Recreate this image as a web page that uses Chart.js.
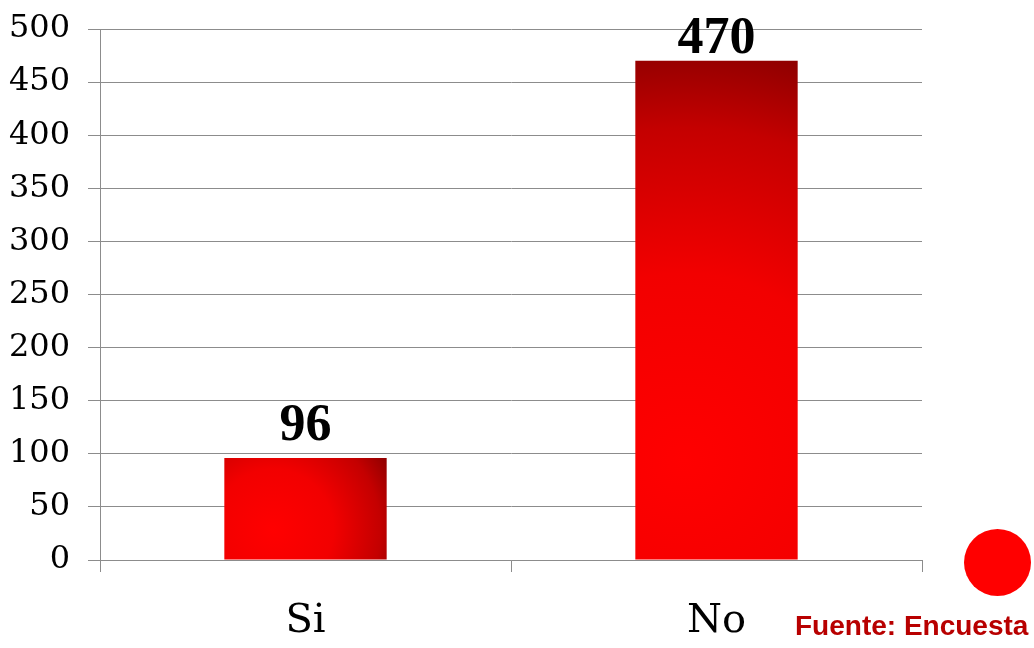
<!DOCTYPE html>
<html>
<head>
<meta charset="utf-8">
<script src="https://cdn.jsdelivr.net/npm/chart.js@4.4.1/dist/chart.umd.min.js"></script>
<style>
  html, body { margin: 0; padding: 0; background: #fff; }
  #wrap { position: relative; width: 1034px; height: 648px; }
  #marca { position: absolute; left: 964px; top: 529px; width: 67px; height: 67px; border-radius: 50%; background: #ff0000; }
  #fuente { position: absolute; left: 795px; top: 610px; font: bold 28px "Liberation Sans", Arial, sans-serif; color: #b80000; white-space: nowrap; }
</style>
</head>
<body>
<div id="wrap">
  <canvas id="grafica" width="1034" height="648"></canvas>
  <div id="marca"></div>
  <div id="fuente">Fuente: Encuesta</div>
</div>
<script>
// datos de la encuesta
const categorias = ['Si', 'No'];
const respuestas = [96, 470];
const ejeMin = 0;
const ejeMax = 500;
const ejePaso = 50;

// relleno radial: rojo claro abajo a la izquierda, oscuro hacia arriba/derecha
function rellenoBarra(context) {
  const chart = context.chart;
  const area = chart.chartArea;
  if (!area || context.dataIndex === undefined) return '#e00000';
  const x = chart.scales.x, y = chart.scales.y;
  const ancho = x.width / categorias.length * 0.395;
  const cx = x.getPixelForValue(context.dataIndex);
  const izq = cx - ancho / 2, der = cx + ancho / 2;
  const arriba = y.getPixelForValue(respuestas[context.dataIndex]);
  const abajo = y.getPixelForValue(0);
  const alto = abajo - arriba;
  const gx = izq + ancho * 0.3;
  const gy = abajo - Math.min(alto * 0.3, 100);
  const r = Math.hypot(der - gx, gy - arriba);
  const g = chart.ctx.createRadialGradient(gx, gy, 0, gx, gy, r);
  g.addColorStop(0, '#ff0000');
  g.addColorStop(0.45, '#f20000');
  g.addColorStop(0.8, '#c40000');
  g.addColorStop(1, '#8e0000');
  return g;
}

// etiqueta con el valor encima de cada barra
const etiquetasValor = {
  id: 'etiquetasValor',
  afterDatasetsDraw(chart) {
    const ctx = chart.ctx;
    const meta = chart.getDatasetMeta(0);
    ctx.save();
    ctx.font = 'bold 52px "Liberation Serif", "Times New Roman", serif';
    ctx.fillStyle = '#000';
    ctx.textAlign = 'center';
    ctx.textBaseline = 'alphabetic';
    meta.data.forEach((bar, i) => {
      ctx.fillText(String(respuestas[i]), bar.x, Math.max(bar.y - 18, 53));
    });
    ctx.restore();
  }
};

new Chart(document.getElementById('grafica'), {
  type: 'bar',
  data: {
    labels: categorias,
    datasets: [{
      data: respuestas,
      backgroundColor: rellenoBarra,
      borderWidth: 0,
      categoryPercentage: 1,
      barPercentage: 0.395
    }]
  },
  options: {
    responsive: false,
    animation: false,
    layout: { padding: { top: 29, right: 112, left: 0, bottom: 0 } },
    plugins: { legend: { display: false }, tooltip: { enabled: false } },
    scales: {
      x: {
        grid: { drawOnChartArea: false, color: '#8c8c8c', tickLength: 12 },
        border: { color: '#8c8c8c' },
        ticks: {
          color: '#000',
          padding: 26,
          font: { family: '"DejaVu Serif", serif', size: 40 }
        },
        afterFit(scale) { scale.height = 88; }
      },
      y: {
        min: ejeMin,
        max: ejeMax,
        grid: { color: '#8c8c8c', tickLength: 12 },
        border: { color: '#8c8c8c' },
        ticks: {
          stepSize: ejePaso,
          color: '#000',
          padding: 18,
          font: { family: '"DejaVu Serif", serif', size: 32 }
        },
        afterFit(scale) {
          scale.width = 100;
          scale.paddingTop = 0;
          scale.paddingBottom = 0;
        }
      }
    }
  },
  plugins: [etiquetasValor]
});
</script>
</body>
</html>
